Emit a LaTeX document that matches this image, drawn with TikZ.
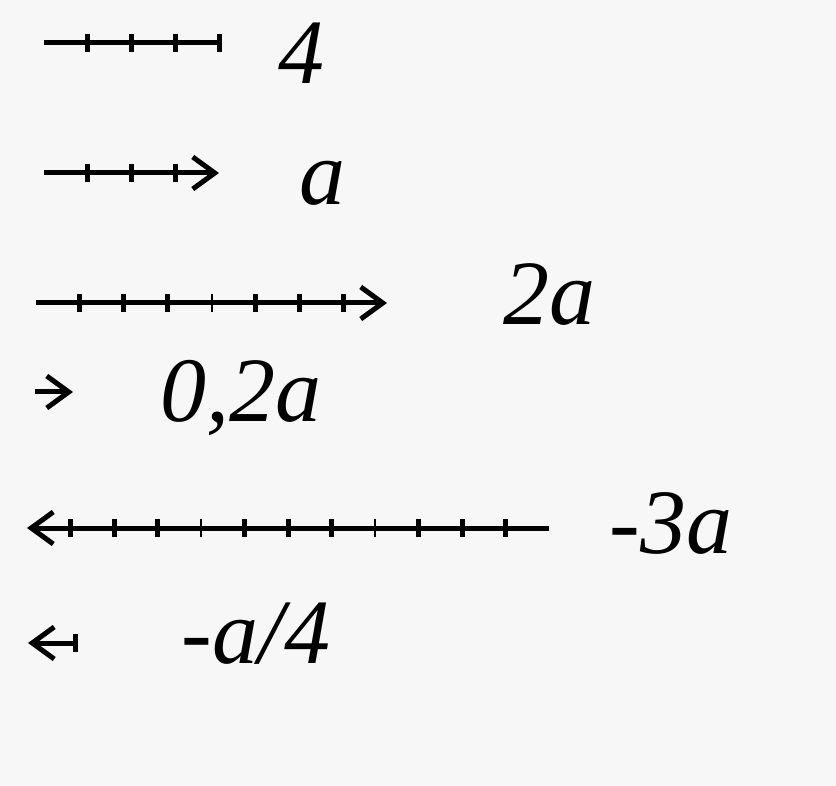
\documentclass[tikz,border=0pt]{standalone}
\usepackage{fontspec}
\setmainfont{Liberation Serif}
\usetikzlibrary{arrows.meta}
\definecolor{paper}{RGB}{247,247,247}
\begin{document}
\begin{tikzpicture}[x=1pt,y=-1pt]
  %
  \tikzstyle{seg} = [line width=5pt]
  \tikzstyle{vec} = [line width=5pt, -{Straight Barb[length=22pt,width=32pt]}]
  \tikzstyle{notch} = [line width=5pt]
  \tikzstyle{thin notch} = [line width=2pt]
  \tikzstyle{lbl} = [anchor=base, inner sep=0pt, font=\fontsize{92}{96}\selectfont\itshape]
  \fill[paper] (0,0) rectangle (836,786);
  \useasboundingbox (0,0) rectangle (836,786);
  % 4
  \coordinate (four0) at (44,43);
  \coordinate (four1) at (219,43);
  \draw[seg] (four0) -- (four1);
  \foreach \k in {1,2,3,4}
    \draw[notch] ([xshift=\k*43.75pt, yshift=9pt]four0) -- ++(0,18);
  \node[lbl] (lfour) at (301,84) {4};
  % a
  \coordinate (a0) at (44,173);
  \coordinate (a1) at (219,173);
  \draw[vec] (a0) -- (a1);
  \foreach \k in {1,2,3}
    \draw[notch] ([xshift=\k*43.75pt, yshift=9pt]a0) -- ++(0,18);
  \node[lbl] (la) at (322,205) {a};
  % 2a
  \coordinate (b0) at (36,303);
  \coordinate (b1) at (387,303);
  \draw[vec] (b0) -- (b1);
  \foreach \k in {1,2,3,5,6,7}
    \draw[notch] ([xshift=\k*43.9pt, yshift=9pt]b0) -- ++(0,18);
  \draw[thin notch] ([xshift=4*43.9pt, yshift=9pt]b0) -- ++(0,18);
  \node[lbl] (lb) at (549,325) {2a};
  % 0,2a
  \coordinate (c0) at (35,392);
  \coordinate (c1) at (73,392);
  \draw[vec] (c0) -- (c1);
  \node[lbl] (lc) at (241,422) {0,2a};
  % -3a
  \coordinate (d0) at (549,528);
  \coordinate (d1) at (27,528);
  \draw[vec] (d0) -- (d1);
  \foreach \k in {1,2,3,5,6,7,9,10,11}
    \draw[notch] ([xshift=\k*43.5pt, yshift=9pt]d1) -- ++(0,18);
  \foreach \k in {4,8}
    \draw[thin notch] ([xshift=\k*43.5pt, yshift=9pt]d1) -- ++(0,18);
  \node[lbl] (ld) at (671,553) {-3a};
  % -a/4
  \coordinate (e0) at (75,643);
  \coordinate (e1) at (28,643);
  \draw[vec] (e0) -- (e1);
  \draw[notch] ([yshift=9pt]e0) -- ++(0,18);
  \node[lbl] (le) at (256,663) {-a/4};
\end{tikzpicture}
\end{document}
